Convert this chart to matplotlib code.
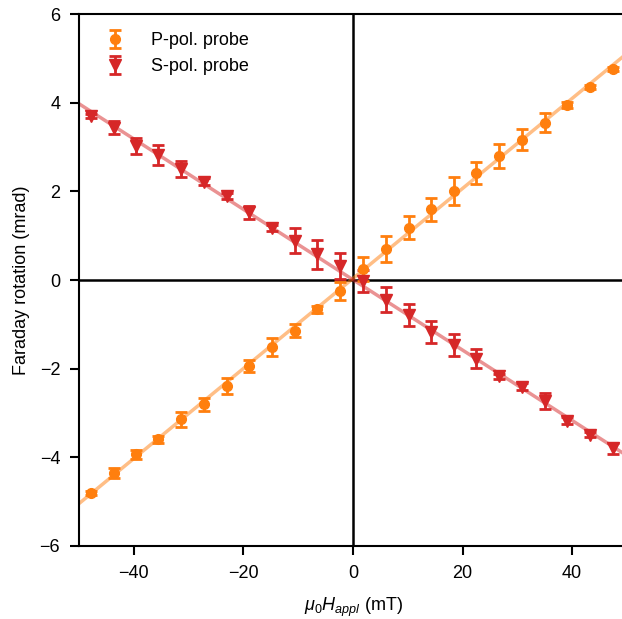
import numpy as np
import matplotlib
matplotlib.use("Agg")
import matplotlib.pyplot as plt

plt.rcParams["font.family"] = ["Liberation Sans", "DejaVu Sans"]
plt.rcParams["mathtext.fontset"] = "custom"
plt.rcParams["mathtext.rm"] = "Liberation Sans"
plt.rcParams["mathtext.it"] = "Liberation Sans:italic"

# applied field (mT)
field = [-47.9, -43.7, -39.6, -35.5, -31.3, -27.2, -23.0, -18.9, -14.8, -10.6,
         -6.6, -2.3, 1.9, 6.0, 10.2, 14.2, 18.4, 22.4, 26.7, 30.8, 35.0, 39.1,
         43.2, 47.4]

# P-pol. probe rotation (mrad) and error
p_rot = [-4.81, -4.35, -3.93, -3.59, -3.14, -2.80, -2.38, -1.94, -1.51, -1.14,
         -0.66, -0.25, 0.25, 0.70, 1.18, 1.60, 2.01, 2.42, 2.81, 3.17, 3.55,
         3.95, 4.36, 4.76]
p_err = [0.05, 0.12, 0.10, 0.08, 0.17, 0.15, 0.18, 0.13, 0.20, 0.15,
         0.08, 0.21, 0.26, 0.30, 0.26, 0.26, 0.32, 0.25, 0.27, 0.23, 0.21,
         0.06, 0.04, 0.04]

# S-pol. probe rotation (mrad) and error
s_rot = [3.70, 3.44, 3.03, 2.83, 2.50, 2.22, 1.90, 1.53, 1.18, 0.89,
         0.58, 0.32, -0.02, -0.44, -0.79, -1.17, -1.47, -1.77, -2.17, -2.41,
         -2.73, -3.17, -3.49, -3.80]
s_err = [0.05, 0.14, 0.18, 0.23, 0.18, 0.08, 0.07, 0.15, 0.07, 0.28,
         0.32, 0.30, 0.25, 0.29, 0.25, 0.24, 0.25, 0.21, 0.06, 0.08,
         0.18, 0.07, 0.06, 0.12]

ORANGE = "#ff7f0e"
RED = "#d62728"

fig = plt.figure(figsize=(6.22, 6.19), dpi=100)
ax = fig.add_axes([0.127, 0.118, 0.881, 0.859])

# linear fits
xfit = np.linspace(-50, 50, 2)
pp = np.polyfit(field, p_rot, 1)
ps = np.polyfit(field, s_rot, 1)
ax.plot(xfit, np.polyval(pp, xfit), color=ORANGE, alpha=0.5, lw=2.5, zorder=2)
ax.plot(xfit, np.polyval(ps, xfit), color=RED, alpha=0.5, lw=2.5, zorder=2)

ax.axhline(0, color="black", lw=1.8, zorder=1)
ax.axvline(0, color="black", lw=1.8, zorder=1)

ax.errorbar(field, p_rot, yerr=p_err, fmt="o", color=ORANGE, ms=7,
            capsize=4, elinewidth=2, capthick=2, label="P-pol. probe", zorder=3)
ax.errorbar(field, s_rot, yerr=s_err, fmt="v", color=RED, ms=8,
            capsize=4, elinewidth=2, capthick=2, label="S-pol. probe", zorder=3)

ax.set_xlim(-50, 50)
ax.set_ylim(-6, 6)
ax.set_xticks([-40, -20, 0, 20, 40])
ax.set_yticks([-6, -4, -2, 0, 2, 4, 6])

for side in ["left", "bottom", "top", "right"]:
    ax.spines[side].set_linewidth(1.5)

ax.tick_params(labelsize=13, length=6.5, width=1.5, pad=7)
ax.set_xlabel(r"$\mu_0H_{appl}$ (mT)", fontsize=13, labelpad=10)
ax.set_ylabel("Faraday rotation (mrad)", fontsize=13, labelpad=7)

ax.legend(loc="upper left", frameon=False, fontsize=13,
          handletextpad=1.0, borderaxespad=0.6)

fig.savefig("out.png", dpi=100)
plt.close(fig)
